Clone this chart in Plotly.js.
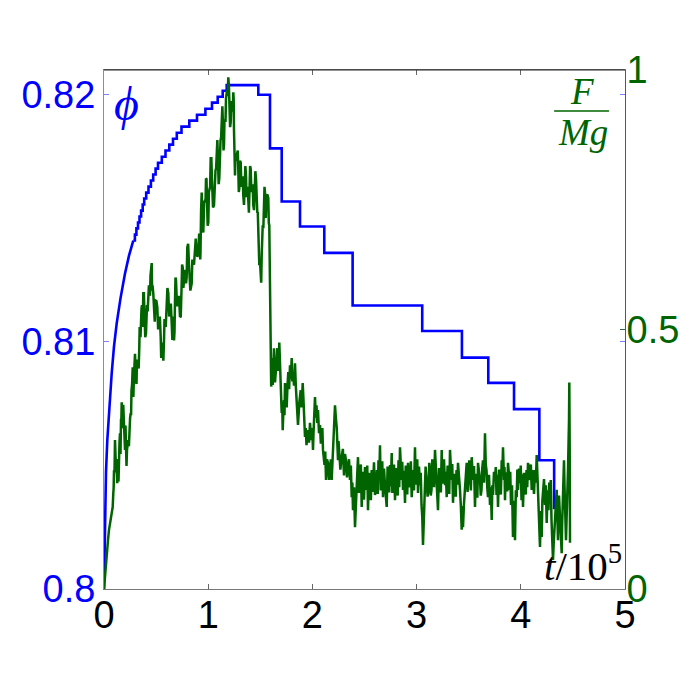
<!DOCTYPE html>
<html><head><meta charset="utf-8">
<script src="https://cdn.plot.ly/plotly-3.0.1.min.js"></script>
<style>html,body{margin:0;padding:0;background:#fff}</style>
</head><body>
<div id="chart" style="width:693px;height:695px"></div>
<script>
// ticks
const xTicks = [0, 1, 2, 3, 4, 5];
const phiTicks = [0.8, 0.81, 0.82];
const phiTickText = ['0.8', '0.81', '0.82'];
const fTicks = [0, 0.5, 1];
const fTickText = ['0', '0.5', '1'];

// packing fraction phi: initial rise
const phiRiseT = [0, 0.002, 0.0096, 0.0192, 0.0317, 0.0509, 0.0739, 0.096, 0.1219, 0.1583, 0.2015, 0.2399, 0.2812];
const phiRise  = [0.8, 0.80065, 0.80331, 0.80473, 0.80602, 0.80743, 0.80873, 0.80982, 0.81075, 0.81176, 0.81277, 0.81349, 0.81410];

// packing fraction phi: staircase part
const phiStepT = [0.2812,0.2965,0.3109,0.3263,0.3407,0.3560,0.3714,0.3858,0.4050,0.4271,
  0.4501,0.4722,0.4952,0.5182,0.5547,0.5902,0.6267,0.6622,0.6987,0.7438,
  0.8186,0.8925,0.9731,1.0365,1.0912,1.1392,1.1775,1.481,1.593,1.7054,
  1.881,2.114,2.386,3.054,3.435,3.688,3.935,4.178,4.32];
const phiStep = [0.81410,0.81434,0.81459,0.81483,0.81507,0.81531,0.81556,0.81580,0.81604,0.81628,
  0.81653,0.81677,0.81701,0.81725,0.81749,0.81774,0.81798,0.81822,0.81846,0.81871,
  0.81895,0.81919,0.81943,0.81968,0.81992,0.82016,0.82039,0.82000,0.81783,0.81568,
  0.81467,0.81360,0.81147,0.81044,0.80936,0.80834,0.80728,0.80521,0.80323];

// force F/Mg : loading and peak
const forceT1 = [
0,0.0096,0.0192,0.0259,0.0384,0.048,0.0576,0.0672,0.0768,0.0835,
0.0893,0.0926,0.096,0.1008,0.1056,0.1104,0.1152,0.1214,0.1276,0.131,
0.1344,0.1392,0.144,0.1488,0.1536,0.1584,0.1631,0.1665,0.1699,0.1737,
0.1775,0.1847,0.1919,0.1967,0.2015,0.2063,0.2111,0.2159,0.2207,0.227,
0.2332,0.239,0.2447,0.2505,0.2562,0.26,0.2639,0.2697,0.2754,0.2817,
0.2879,0.2975,0.3071,0.3119,0.3167,0.3215,0.3263,0.3326,0.3388,0.3422,
0.3455,0.3503,0.3551,0.3599,0.3647,0.371,0.3772,0.383,0.3887,0.3959,
0.4031,0.4079,0.4127,0.4189,0.4251,0.4309,0.4367,0.4415,0.4463,0.452,
0.4578,0.4617,0.4655,0.4727,0.4798,0.487,0.4942,0.5029,0.5115,0.5197,
0.5278,0.536,0.5441,0.5489,0.5537,0.5585,0.5633,0.5696,0.5758,0.5806,
0.5854,0.5926,0.5998,0.6085,0.6171,0.6253,0.6334,0.6416,0.6497,0.656,
0.6622,0.667,0.6718,0.6766,0.6814,0.6862,0.691,0.7006,0.7102,0.7198,
0.7294,0.7366,0.7438,0.7496,0.7553,0.7616,0.7678,0.7774,0.787,0.7932,
0.7994,0.8076,0.8157,0.8287,0.8417,0.8479,0.8541,0.8637,0.8733,0.8805,
0.8877,0.8964,0.905,0.9132,0.9213,0.9237,0.9261,0.9319,0.9376,0.9453,
0.953,0.9612,0.9693,0.9741,0.9789,0.9837,0.9885,0.9948,1.001,1.0068,
1.0125,1.0183,1.024,1.0303,1.0365,1.0461,1.0557,1.0629,1.0701,1.0759,
1.0816,1.0878,1.094,1.1003,1.1065,1.1123,1.118,1.1238,1.1296,1.1358,
1.142,1.1468,1.1516,1.1564,1.1612,1.166,1.1708,1.1756,1.1804,1.1867,
1.1929,1.1987,1.2044,1.2102,1.2159,1.2222,1.2284,1.2347,1.2409,1.2443,
1.2476,1.2524,1.2572,1.262,1.2668,1.2731,1.2793,1.2841,1.2889,1.2937,
1.2985,1.3052,1.3119,1.3182,1.3244,1.3307,1.3369,1.3436,1.3503,1.3566,
1.3628,1.3676,1.3724,1.3786,1.3848,1.3906,1.3964,1.4022,1.4079,1.4141,
1.4203,1.4266,1.4328,1.4396,1.4463,1.4525,1.4587,1.465,1.4712,1.476,
1.4808,1.4856,1.4904,1.4971,1.5038,1.5086,1.5134,1.5182,1.523,1.5293,
1.5355,1.5403,1.5451,1.5523,1.5595,1.5682,1.5768,1.5816,1.5864,1.5898,
1.5931];
const forceF1 = [
0,0.027,0.056,0.069,0.094,0.114,0.127,0.142,0.152,0.158,
0.185,0.195,0.229,0.225,0.287,0.265,0.229,0.237,0.204,0.250,
0.248,0.207,0.277,0.283,0.300,0.260,0.325,0.325,0.360,0.310,
0.316,0.355,0.293,0.280,0.268,0.315,0.243,0.237,0.268,0.280,
0.287,0.275,0.316,0.330,0.339,0.335,0.383,0.395,0.427,0.370,
0.412,0.453,0.402,0.395,0.441,0.440,0.431,0.425,0.466,0.505,
0.499,0.485,0.527,0.540,0.547,0.505,0.570,0.570,0.527,0.485,
0.493,0.545,0.547,0.535,0.581,0.585,0.576,0.565,0.604,0.615,
0.628,0.575,0.585,0.570,0.524,0.515,0.556,0.555,0.543,0.500,
0.518,0.525,0.485,0.445,0.460,0.475,0.441,0.440,0.479,0.520,
0.512,0.505,0.547,0.580,0.570,0.525,0.537,0.550,0.512,0.480,
0.495,0.525,0.479,0.495,0.556,0.600,0.595,0.545,0.556,0.565,
0.524,0.525,0.576,0.625,0.620,0.580,0.604,0.615,0.589,0.600,
0.658,0.665,0.624,0.575,0.589,0.635,0.629,0.625,0.666,0.675,
0.653,0.640,0.647,0.685,0.672,0.635,0.649,0.730,0.764,0.695,
0.687,0.745,0.749,0.745,0.791,0.790,0.749,0.700,0.706,0.765,
0.768,0.775,0.830,0.830,0.787,0.735,0.739,0.800,0.807,0.810,
0.860,0.865,0.826,0.780,0.791,0.855,0.864,0.870,0.926,0.930,
0.893,0.845,0.855,0.905,0.903,0.900,0.945,0.955,0.961,0.950,
0.986,0.970,0.941,0.890,0.899,0.940,0.932,0.920,0.957,0.945,
0.884,0.815,0.797,0.840,0.826,0.825,0.841,0.845,0.807,0.765,
0.772,0.825,0.822,0.775,0.787,0.795,0.758,0.740,0.778,0.815,
0.797,0.755,0.768,0.775,0.733,0.725,0.768,0.815,0.810,0.765,
0.778,0.780,0.739,0.730,0.768,0.805,0.791,0.735,0.726,0.725,
0.672,0.625,0.624,0.630,0.591,0.590,0.643,0.700,0.701,0.695,
0.739,0.775,0.764,0.715,0.758,0.760,0.753,0.705,0.701,0.640,
0.576];

// force F/Mg : drop and relaxation
const forceT2 = [
1.5998,1.6046,1.6094,1.6142,1.619,1.6252,1.6315,1.6411,1.6507,1.6569,
1.6631,1.6727,1.6823,1.6881,1.6939,1.6997,1.7054,1.7102,1.715,1.7212,
1.7274,1.7322,1.737,1.7452,1.7534,1.761,1.7687,1.7768,1.785,1.7932,
1.8013,1.8075,1.8138,1.8234,1.833,1.8412,1.8494,1.8556,1.8618,1.8748,
1.8877,1.8973,1.9069,1.9132,1.9194,1.9242,1.929,1.9362,1.9434,1.9506,
1.9578,1.9674,1.977,1.9842,1.9914,1.9986,2.0058,2.0106,2.0154,2.0202,
2.025,2.0322,2.0393,2.0465,2.0537,2.0633,2.0729,2.0811,2.0893,2.0955,
2.1017,2.1089,2.1161,2.1233,2.1305,2.1401,2.1497,2.1593,2.1689,2.1771,
2.1852,2.1915,2.1977,2.2073,2.2169,2.2251,2.2332,2.2395,2.2457,2.2505,
2.2553,2.2683,2.2812,2.2923,2.3033,2.3129,2.3225,2.3321,2.3417,2.3513];
const forceF2 = [
0.445,0.390,0.412,0.445,0.393,0.430,0.464,0.398,0.418,0.440,
0.464,0.420,0.475,0.430,0.402,0.370,0.339,0.360,0.306,0.340,
0.364,0.335,0.397,0.370,0.350,0.392,0.418,0.385,0.431,0.405,
0.445,0.400,0.418,0.392,0.435,0.390,0.358,0.340,0.316,0.360,
0.383,0.350,0.397,0.370,0.345,0.320,0.293,0.310,0.277,0.300,
0.306,0.282,0.320,0.300,0.287,0.310,0.268,0.300,0.325,0.345,
0.370,0.330,0.354,0.320,0.345,0.300,0.316,0.280,0.293,0.310,
0.268,0.250,0.239,0.265,0.210,0.250,0.243,0.210,0.229,0.250,
0.210,0.235,0.258,0.300,0.354,0.330,0.312,0.280,0.248,0.285,
0.268,0.230,0.254,0.270,0.219,0.260,0.248,0.215,0.235,0.250];

// force F/Mg : steady fluctuating tail
const forceT3 = [
2.3608,2.369,2.3772,2.3834,2.3896,2.3992,2.4088,2.416,2.4232,2.4304,
2.4376,2.4472,2.4568,2.465,2.4731,2.4794,2.4856,2.4952,2.5048,2.512,
2.5192,2.5264,2.5336,2.5432,2.5528,2.561,2.5691,2.5754,2.5816,2.5912,
2.6008,2.6104,2.62,2.6272,2.6344,2.6416,2.6488,2.656,2.6631,2.6703,
2.6775,2.6871,2.6967,2.7049,2.7131,2.7217,2.7303,2.7375,2.7447,2.7529,
2.761,2.7673,2.7735,2.7831,2.7927,2.8023,2.8119,2.8191,2.8263,2.8335,
2.8407,2.8479,2.8551,2.8623,2.8695,2.8791,2.8887,2.8959,2.9031,2.9103,
2.9175,2.9271,2.9367,2.9449,2.953,2.9593,2.9655,2.9751,2.9846,2.9918,
2.999,3.0062,3.0134,3.023,3.0326,3.0398,3.047,3.0542,3.0614,3.0686,
3.0758,3.0864,3.0969,3.1056,3.1142,3.1214,3.1286,3.1358,3.143,3.1502,
3.1574,3.167,3.1766,3.1838,3.191,3.1982,3.2054,3.215,3.2246,3.2328,
3.2409,3.2472,3.2534,3.263,3.2726,3.2808,3.2889,3.2975,3.3061,3.3133,
3.3205,3.3277,3.3349,3.3421,3.3493,3.3589,3.3685,3.3757,3.3829,3.3901,
3.3973,3.4069,3.4165,3.4247,3.4328,3.4391,3.4453,3.4549,3.4645,3.4727,
3.4808,3.4895,3.4981,3.5053,3.5125,3.5207,3.5288,3.5351,3.5413,3.5509,
3.5605,3.5687,3.5768,3.5831,3.5893,3.5989,3.6084,3.6156,3.6228,3.63,
3.6372,3.6468,3.6564,3.6636,3.6708,3.678,3.6852,3.6948,3.7044,3.7126,
3.7207,3.727,3.7332,3.7428,3.7524,3.7596,3.7668,3.774,3.7812,3.7908,
3.8004,3.8086,3.8167,3.823,3.8292,3.834,3.8388,3.8436,3.8484,3.8556,
3.8628,3.87,3.8772,3.8844,3.8916,3.8988,3.906,3.9156,3.9251,3.9323,
3.9395,3.9419,3.9443,3.9525,3.9607,3.9669,3.9731,3.9827,3.9923,3.9995,
4.0067,4.0139,4.0211,4.0307,4.0403,4.0475,4.0547,4.0619,4.0691,4.0787,
4.0883,4.0965,4.1046,4.1109,4.1171,4.1267,4.1363,4.1445,4.1526,4.1589,
4.1651,4.1699,4.1747,4.1795,4.1843,4.1925,4.2006,4.2069,4.2131,4.2227,
4.2322,4.2404,4.2486,4.2572,4.2658,4.273,4.2802,4.2874,4.2946,4.3018,
4.309,4.3162,4.3234,4.334,4.3445,4.3508,4.357,4.3666,4.3762,4.3844,
4.3925,4.3964,4.4002,4.4074,4.4146,4.4194,4.4242,4.429,4.4338,4.4401,
4.4463,4.453,4.4626,4.4655,4.4693,4.4722];
const forceF3 = [
0.210,0.238,0.177,0.205,0.152,0.196,0.119,0.170,0.191,0.222,
0.254,0.185,0.210,0.240,0.158,0.226,0.200,0.172,0.235,0.212,
0.191,0.238,0.152,0.224,0.191,0.171,0.229,0.187,0.200,0.244,
0.181,0.196,0.229,0.183,0.248,0.212,0.277,0.190,0.219,0.246,
0.177,0.232,0.200,0.181,0.158,0.236,0.210,0.186,0.239,0.198,
0.262,0.185,0.210,0.240,0.171,0.233,0.219,0.180,0.248,0.196,
0.273,0.228,0.210,0.245,0.191,0.228,0.166,0.238,0.210,0.182,
0.243,0.196,0.210,0.246,0.177,0.205,0.229,0.190,0.273,0.201,
0.229,0.250,0.185,0.236,0.200,0.224,0.162,0.140,0.085,0.150,
0.171,0.236,0.210,0.178,0.191,0.243,0.229,0.180,0.191,0.250,
0.229,0.196,0.268,0.232,0.210,0.187,0.152,0.233,0.210,0.186,
0.268,0.203,0.229,0.250,0.200,0.226,0.177,0.238,0.219,0.183,
0.268,0.232,0.210,0.241,0.166,0.222,0.200,0.178,0.229,0.201,
0.243,0.221,0.191,0.160,0.114,0.160,0.119,0.165,0.191,0.222,
0.243,0.187,0.210,0.248,0.229,0.190,0.254,0.229,0.210,0.237,
0.158,0.222,0.200,0.176,0.243,0.226,0.210,0.180,0.191,0.232,
0.248,0.205,0.300,0.240,0.229,0.196,0.177,0.220,0.162,0.196,
0.133,0.200,0.181,0.226,0.210,0.235,0.181,0.220,0.158,0.230,
0.210,0.182,0.248,0.226,0.273,0.236,0.210,0.235,0.171,0.225,
0.210,0.188,0.243,0.226,0.191,0.226,0.162,0.200,0.100,0.170,
0.133,0.150,0.094,0.190,0.177,0.230,0.191,0.232,0.204,0.238,
0.171,0.221,0.158,0.224,0.200,0.182,0.229,0.196,0.243,0.226,
0.210,0.240,0.191,0.229,0.210,0.183,0.229,0.205,0.258,0.220,
0.185,0.160,0.133,0.110,0.081,0.150,0.100,0.170,0.191,0.212,
0.162,0.200,0.127,0.190,0.152,0.205,0.177,0.210,0.133,0.100,
0.056,0.090,0.114,0.165,0.191,0.140,0.094,0.180,0.133,0.100,
0.069,0.120,0.158,0.205,0.248,0.200,0.171,0.130,0.094,0.140,
0.171,0.229,0.325,0.398,0.268,0.089];

const forceT = forceT1.concat(forceT2, forceT3);
const forceF = forceF1.concat(forceF2, forceF3);

const BLUE = '#0000ff';
const GREEN = '#006400';
const tickFont = {family: 'Liberation Sans, Arial, sans-serif', size: 38};
const serif = 'Liberation Serif, DejaVu Serif, serif';

const traces = [
  {x: phiRiseT, y: phiRise, type: 'scatter', mode: 'lines', yaxis: 'y',
   line: {color: BLUE, width: 2.6}, hoverinfo: 'skip'},
  {x: phiStepT, y: phiStep, type: 'scatter', mode: 'lines', yaxis: 'y',
   line: {color: BLUE, width: 2.6, shape: 'hv'}, hoverinfo: 'skip'},
  {x: forceT, y: forceF, type: 'scatter', mode: 'lines', yaxis: 'y2',
   line: {color: GREEN, width: 2.5}, hoverinfo: 'skip'}
];

const layout = {
  width: 693, height: 695,
  margin: {l: 104, r: 68, t: 70, b: 106, pad: 0},
  paper_bgcolor: '#fff', plot_bgcolor: '#fff',
  showlegend: false,
  font: {family: 'Liberation Sans, Arial, sans-serif'},
  xaxis: {
    range: [0, 5], tickvals: xTicks, ticktext: xTicks.map(String),
    ticks: 'inside', ticklen: 5, tickwidth: 1, tickcolor: '#666',
    showline: true, linecolor: '#777', linewidth: 1, mirror: 'ticks',
    showgrid: false, zeroline: false, ticklabelstandoff: -8,
    tickfont: Object.assign({color: '#000'}, tickFont)
  },
  yaxis: {
    range: [0.8, 0.821], tickvals: phiTicks, ticktext: phiTickText,
    ticks: 'inside', ticklen: 5, tickwidth: 1, tickcolor: '#8080ff',
    showline: true, linecolor: '#8080ff', linewidth: 1, mirror: 'ticks',
    showgrid: false, zeroline: false,
    tickfont: Object.assign({color: BLUE}, tickFont)
  },
  yaxis2: {
    range: [0, 1], tickvals: fTicks, ticktext: fTickText,
    overlaying: 'y', side: 'right',
    ticks: 'inside', ticklen: 5, tickwidth: 1, tickcolor: '#2f6b45',
    showline: true, linecolor: '#2f6b55', linewidth: 1,
    showgrid: false, zeroline: false, ticklabelstandoff: -7,
    tickfont: Object.assign({color: GREEN}, tickFont)
  },
  shapes: [
    {type: 'line', xref: 'paper', yref: 'paper', x0: 0, x1: 1, y0: 1, y1: 1,
     line: {color: '#222', width: 1}},
    {type: 'line', xref: 'x', yref: 'y2', x0: 4.32, x1: 4.846, y0: 0.921, y1: 0.921,
     line: {color: GREEN, width: 1.5}}
  ],
  annotations: [
    {xref: 'x', yref: 'y2', x: 0.215, y: 0.935, text: '<i>ϕ</i>', showarrow: false,
     font: {family: serif, size: 48, color: BLUE}},
    {xref: 'x', yref: 'y2', x: 4.587, y: 0.958, text: '<i>F</i>', showarrow: false,
     font: {family: serif, size: 37, color: GREEN}},
    {xref: 'x', yref: 'y2', x: 4.597, y: 0.880, text: '<i>Mg</i>', showarrow: false,
     font: {family: serif, size: 37, color: GREEN}},
    {xref: 'x', yref: 'y2', x: 4.995, y: 0.05, xanchor: 'right', yanchor: 'middle',
     text: '<i>t</i>/10<sup>5</sup>', showarrow: false,
     font: {family: serif, size: 41, color: '#000'}}
  ]
};

Plotly.newPlot('chart', traces, layout, {displayModeBar: false, staticPlot: true});
</script>
</body></html>
